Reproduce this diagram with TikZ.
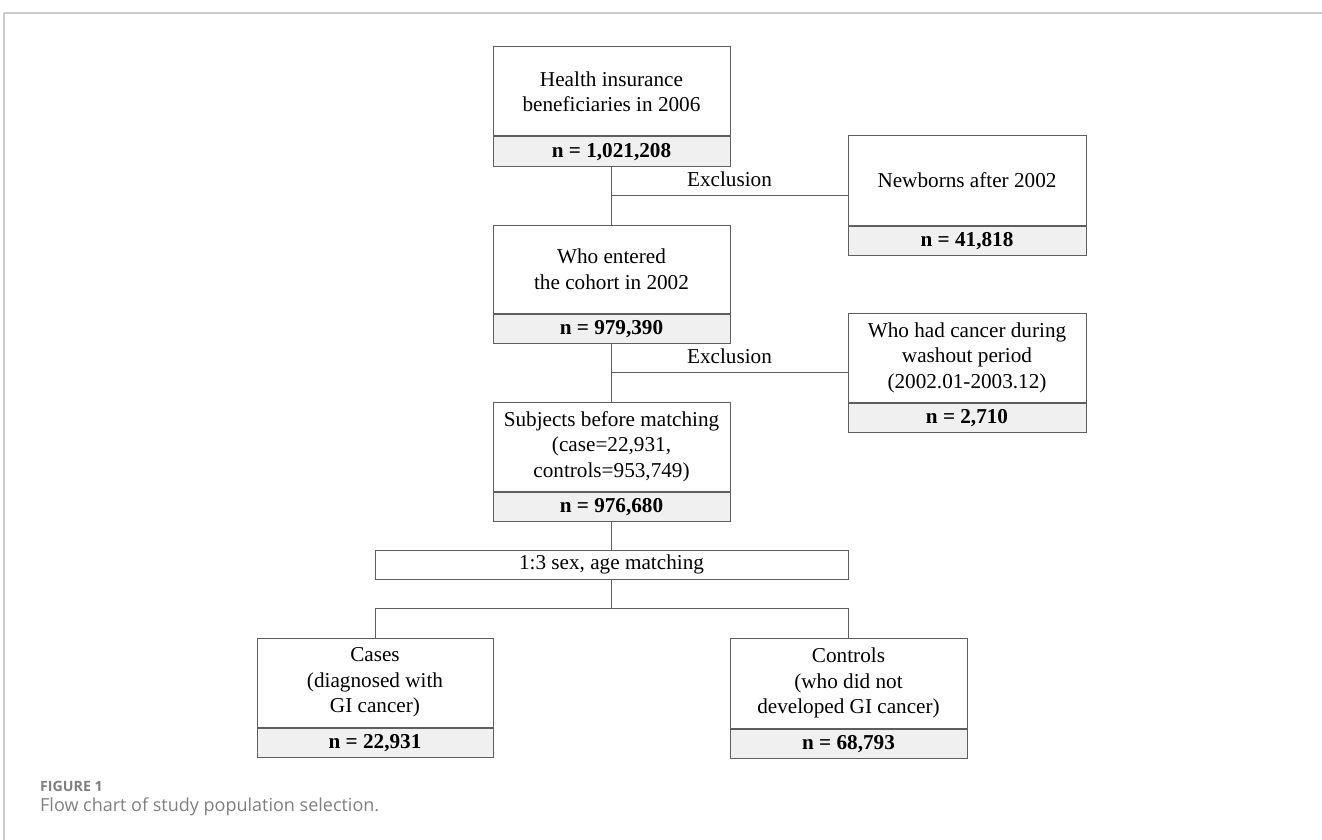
\documentclass[tikz,border=0pt]{standalone}
\usepackage{fontspec}
\setmainfont{Liberation Serif}
\newfontfamily\capfont{Open Sans}
\usetikzlibrary{calc}
\definecolor{boxline}{HTML}{5E5E5E}
\definecolor{nfill}{HTML}{F0F0F0}
\definecolor{framegray}{HTML}{CCCCCC}
\definecolor{capgray}{HTML}{7F7F7F}
\tikzset{
  txtbox/.style={draw=boxline, line width=1pt, fill=white, align=center, inner sep=0pt,
     font=\fontsize{21.2}{25.5}\selectfont, text=black},
  nbox/.style={draw=boxline, line width=1pt, fill=nfill, align=center, inner sep=0pt,
     minimum height=29.5pt, font=\fontsize{21.2}{24}\selectfont\bfseries, text=black, anchor=north},
  conn/.style={draw=boxline, line width=1pt},
  lbl/.style={font=\fontsize{21.2}{24}\selectfont, text=black, inner sep=0pt}
}
\begin{document}
\begin{tikzpicture}[x=1pt,y=-1pt]
\useasboundingbox (0,0) rectangle (1322,840);
% frame
\draw[framegray, line width=2pt] (4,13) -- (1322,13);
\draw[framegray, line width=1.5pt] (4,13) -- (4,840);
% top box
\node[txtbox, minimum width=237pt, minimum height=89pt] (hi) at (611.5,91.5) {Health insurance\\beneficiaries in 2006};
\node[nbox, minimum width=237pt] (hin) at (hi.south) {n = 1,021,208};
% newborns
\node[txtbox, minimum width=238pt, minimum height=89pt] (nb) at (967,180.5) {Newborns after 2002};
\node[nbox, minimum width=238pt] (nbn) at (nb.south) {n = 41,818};
% entered cohort
\node[txtbox, minimum width=237pt, minimum height=88pt] (ec) at (611.5,269) {Who entered\\the cohort in 2002};
\node[nbox, minimum width=237pt] (ecn) at (ec.south) {n = 979,390};
% washout
\node[txtbox, minimum width=238pt, minimum height=89pt] (wo) at (967,357.5) {Who had cancer during\\washout period\\(2002.01-2003.12)};
\node[nbox, minimum width=238pt] (won) at (wo.south) {n = 2,710};
% subjects
\node[txtbox, minimum width=237pt, minimum height=89pt] (sb) at (611.5,446.5) {Subjects before matching\\(case=22,931,\\controls=953,749)};
\node[nbox, minimum width=237pt] (sbn) at (sb.south) {n = 976,680};
% matching bar
\node[txtbox, minimum width=473pt, minimum height=29pt] (mt) at (611.5,564.5) {1:3 sex, age matching};
% cases
\node[txtbox, minimum width=236pt, minimum height=89pt] (cs) at (375,682.5) {Cases\\(diagnosed with\\GI cancer)};
\node[nbox, minimum width=236pt] (csn) at (cs.south) {n = 22,931};
% controls
\node[txtbox, minimum width=237pt, minimum height=90pt] (ct) at (848.5,683) {Controls\\(who did not\\developed GI cancer)};
\node[nbox, minimum width=237pt] (ctn) at (ct.south) {n = 68,793};
% connectors
\coordinate (j1) at ($(hin.south)!0.5!(ec.north)$);
\coordinate (j2) at ($(ecn.south)!0.5!(sb.north)$);
\coordinate (j3) at ($(mt.south)!0.5!(mt.south |- cs.north)$);
\draw[conn] (hin.south) -- (ec.north);
\draw[conn] (j1) -- (j1 -| nb.west) node[lbl, midway, above=9pt] (ex1) {Exclusion};
\draw[conn] (ecn.south) -- (sb.north);
\draw[conn] (j2) -- (j2 -| wo.west) node[lbl, midway, above=9pt] (ex2) {Exclusion};
\draw[conn] (sbn.south) -- (mt.north);
\draw[conn] (mt.south) -- (j3);
\draw[conn] (cs.north) |- (j3) -| (ct.north);
% caption
\node[anchor=base west, inner sep=0pt, text=capgray, font=\capfont\fontsize{14.2}{16}\selectfont\bfseries] (fig) at (40,791) {FIGURE 1};
\node[anchor=base west, inner sep=0pt, text=capgray, font=\capfont\fontsize{18}{22}\selectfont] (cap) at (40,811) {Flow chart of study population selection.};
\end{tikzpicture}
\end{document}
